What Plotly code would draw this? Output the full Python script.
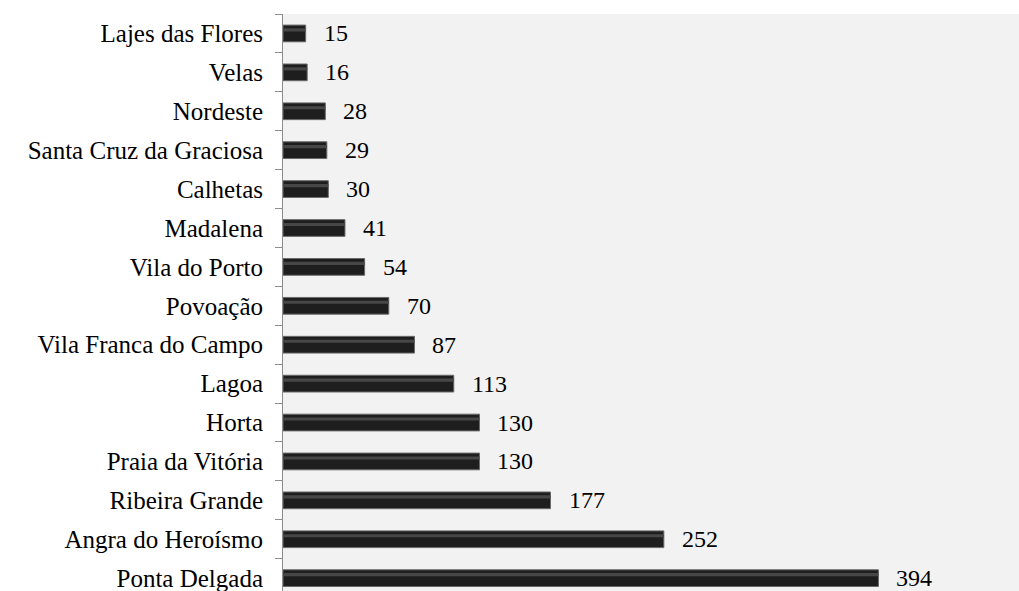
import plotly.graph_objects as go

categories = ["Lajes das Flores", "Velas", "Nordeste", "Santa Cruz da Graciosa", "Calhetas",
              "Madalena", "Vila do Porto", "Povoação", "Vila Franca do Campo", "Lagoa",
              "Horta", "Praia da Vitória", "Ribeira Grande", "Angra do Heroísmo", "Ponta Delgada"]
values = [15, 16, 28, 29, 30, 41, 54, 70, 87, 113, 130, 130, 177, 252, 394]

font_family = "Liberation Serif, Times New Roman, serif"

fig = go.Figure()
fig.add_trace(go.Bar(
    y=categories, x=values, orientation="h", width=0.43,
    marker=dict(color="#1e1e1e", line=dict(color="#6a6a6a", width=1)),
    hoverinfo="x+y", showlegend=False,
))
fig.add_trace(go.Bar(
    y=categories, x=values, orientation="h", width=0.08, offset=-0.13,
    marker=dict(color="#474747", line=dict(width=0)),
    hoverinfo="skip", showlegend=False,
))

for c, v in zip(categories, values):
    fig.add_annotation(x=v, y=c, text=str(v), showarrow=False, xanchor="left",
                       xshift=16, font=dict(family=font_family, size=24, color="#000"))

fig.update_layout(
    width=1019, height=591,
    margin=dict(l=283, r=0, t=14, b=0),
    paper_bgcolor="white", plot_bgcolor="#f2f2f2",
    barmode="overlay",
    font=dict(family=font_family, size=24, color="#000"),
    xaxis=dict(range=[0, 487], showticklabels=False, showgrid=False, zeroline=False,
               ticks="", showline=False),
    yaxis=dict(type="category", categoryorder="array", categoryarray=categories,
               range=[14.33, -0.5], showline=True, linecolor="#8c8c8c", linewidth=1,
               ticks="outside", ticklen=7, tickcolor="#8c8c8c", tickson="boundaries",
               ticklabelstandoff=14, showgrid=False,
               tickfont=dict(family=font_family, size=25, color="#000")),
)

fig.write_html("out.html", config={"displayModeBar": False},
               post_script="document.body.style.margin='0';document.body.style.overflow='hidden';")
